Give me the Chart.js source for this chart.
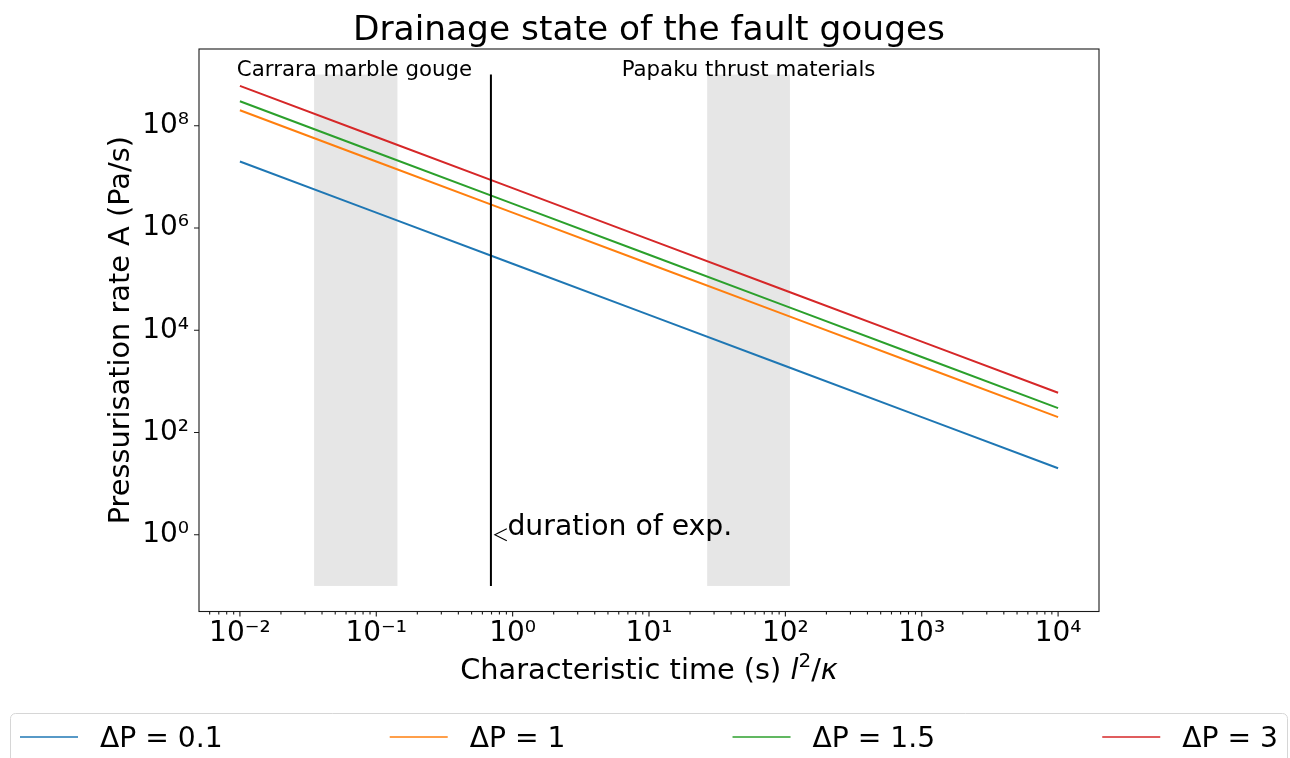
<!DOCTYPE html>
<html>
<head>
<meta charset="utf-8">
<script src="https://cdn.jsdelivr.net/npm/chart.js@4"></script>
<style>
  body { margin: 0; background: #fff; }
  #wrap { width: 1290px; height: 758px; }
</style>
</head>
<body>
<div id="wrap"><canvas id="drainageChart" width="1290" height="758"></canvas></div>
<script>
// characteristic time l^2/kappa (s), one point per decade
const times = [0.01, 0.1, 1, 10, 100, 1000, 10000];
// pressurisation rate A (Pa/s)
const rateDp01 = [2e7, 2e6, 2e5, 2e4, 2e3, 2e2, 2e1];
const rateDp1 = [2e8, 2e7, 2e6, 2e5, 2e4, 2e3, 2e2];
const rateDp15 = [3e8, 3e7, 3e6, 3e5, 3e4, 3e3, 3e2];
const rateDp3 = [6e8, 6e7, 6e6, 6e5, 6e4, 6e3, 6e2];
const seriesLabels = ['ΔP = 0.1', 'ΔP = 1', 'ΔP = 1.5', 'ΔP = 3'];
const seriesColors = ['#1f77b4', '#ff7f0e', '#2ca02c', '#d62728'];

// shaded time ranges of the two materials
const carraraRange = [0.035, 0.143];
const papakuRange = [26.7, 108];
const spanRate = [0.1, 1e9];
const expDuration = 0.693;
const arrowTip = [0.74, 1];
const noteAt = [0.915, 1];

const xMajorTicks = [1e-2, 1e-1, 1e0, 1e1, 1e2, 1e3, 1e4];
const yMajorTicks = [1e0, 1e2, 1e4, 1e6, 1e8];

const FONT = '"DejaVu Sans", "Liberation Sans", sans-serif';
Chart.defaults.font.family = FONT;
Chart.defaults.color = '#000';

const supChars = { '-': '⁻', '0': '⁰', '1': '¹', '2': '²', '3': '³', '4': '⁴', '5': '⁵', '6': '⁶', '7': '⁷', '8': '⁸', '9': '⁹' };
function isPow10(v) {
  const e = Math.log10(v);
  return Math.abs(e - Math.round(e)) < 1e-6;
}
function powLabel(v) {
  const e = String(Math.round(Math.log10(v)));
  return '10' + e.split('').map(c => supChars[c]).join('');
}

function toPoints(vals) {
  return times.map((t, i) => ({ x: t, y: vals[i] }));
}

const extras = {
  id: 'extras',
  beforeDatasetsDraw(chart) {
    const { ctx, scales: { x, y } } = chart;
    ctx.save();
    ctx.fillStyle = '#e6e6e6';
    [carraraRange, papakuRange].forEach(r => {
      const x0 = x.getPixelForValue(r[0]);
      const x1 = x.getPixelForValue(r[1]);
      const y0 = y.getPixelForValue(spanRate[1]);
      const y1 = y.getPixelForValue(spanRate[0]);
      ctx.fillRect(x0, y0, x1 - x0, y1 - y0);
    });
    ctx.restore();
  },
  afterDatasetsDraw(chart) {
    const { ctx, scales: { x, y } } = chart;
    ctx.save();
    // duration of the experiments
    const xv = x.getPixelForValue(expDuration);
    ctx.strokeStyle = '#000';
    ctx.lineWidth = 2;
    ctx.beginPath();
    ctx.moveTo(xv, y.getPixelForValue(spanRate[1]));
    ctx.lineTo(xv, y.getPixelForValue(spanRate[0]));
    ctx.stroke();
    ctx.restore();
  },
  afterDraw(chart) {
    const { ctx, chartArea: a, scales: { x, y } } = chart;
    ctx.save();
    // axes frame
    ctx.strokeStyle = '#1a1a1a';
    ctx.lineWidth = 1.1;
    ctx.strokeRect(a.left, a.top, a.right - a.left, a.bottom - a.top);

    // tick marks
    ctx.beginPath();
    x.ticks.forEach(t => {
      const px = x.getPixelForValue(t.value);
      ctx.moveTo(px, a.bottom);
      ctx.lineTo(px, a.bottom + (isPow10(t.value) ? 5 : 3));
    });
    y.ticks.forEach(t => {
      const py = y.getPixelForValue(t.value);
      ctx.moveTo(a.left, py);
      ctx.lineTo(a.left - 5, py);
    });
    ctx.stroke();

    ctx.fillStyle = '#000';
    // title
    ctx.font = '34.4px ' + FONT;
    ctx.textAlign = 'center';
    ctx.textBaseline = 'alphabetic';
    ctx.fillText('Drainage state of the fault gouges', (a.left + a.right) / 2, 40);

    // range labels
    ctx.font = '21.3px ' + FONT;
    ctx.textAlign = 'left';
    ctx.fillText('Carrara marble gouge', x.getPixelForValue(0.0095), y.getPixelForValue(spanRate[1]) + 1);
    ctx.textAlign = 'center';
    ctx.fillText('Papaku thrust materials', x.getPixelForValue(Math.sqrt(papakuRange[0] * papakuRange[1])), y.getPixelForValue(spanRate[1]) + 1);

    // annotation
    const tipX = x.getPixelForValue(arrowTip[0]);
    const tipY = y.getPixelForValue(arrowTip[1]);
    ctx.lineWidth = 1.1;
    ctx.strokeStyle = '#000';
    ctx.beginPath();
    ctx.moveTo(tipX + 12, tipY - 6);
    ctx.lineTo(tipX, tipY);
    ctx.lineTo(tipX + 12, tipY + 6);
    ctx.stroke();
    ctx.font = '28.3px ' + FONT;
    ctx.textAlign = 'left';
    ctx.fillText('duration of exp.', x.getPixelForValue(noteAt[0]), y.getPixelForValue(noteAt[1]));

    // y axis title
    ctx.font = '28.8px ' + FONT;
    ctx.save();
    ctx.translate(129, (a.top + a.bottom) / 2);
    ctx.rotate(-Math.PI / 2);
    ctx.textAlign = 'center';
    ctx.fillText('Pressurisation rate A (Pa/s)', 0, 0);
    ctx.restore();

    // x axis title with l^2/kappa
    const parts = [
      { s: 'Characteristic time (s) ', f: '28.8px ' + FONT, dy: 0 },
      { s: 'l', f: 'italic 28.8px ' + FONT, dy: 0 },
      { s: '2', f: '20px ' + FONT, dy: -12 },
      { s: '/', f: '28.8px ' + FONT, dy: 0 },
      { s: 'κ', f: 'italic 28.8px ' + FONT, dy: 0 }
    ];
    let total = 0;
    parts.forEach(p => { ctx.font = p.f; p.w = ctx.measureText(p.s).width; total += p.w; });
    let cx = (a.left + a.right) / 2 - total / 2;
    ctx.textAlign = 'left';
    parts.forEach(p => { ctx.font = p.f; ctx.fillText(p.s, cx, 679 + p.dy); cx += p.w; });

    // legend
    const lg = { left: 10, top: 713, right: 1288 };
    ctx.strokeStyle = '#d6d6d6';
    ctx.lineWidth = 1;
    ctx.beginPath();
    ctx.roundRect(lg.left + 0.5, lg.top + 0.5, lg.right - lg.left - 1, 80, 5);
    ctx.stroke();
    ctx.font = '28.2px ' + FONT;
    const handle = 58, gapText = 22;
    const widths = seriesLabels.map(s => handle + gapText + ctx.measureText(s).width);
    const inner0 = lg.left + 10, inner1 = lg.right - 10;
    const gap = (inner1 - inner0 - widths.reduce((s, w) => s + w, 0)) / (seriesLabels.length - 1);
    let lx = inner0;
    seriesLabels.forEach((s, i) => {
      ctx.strokeStyle = seriesColors[i];
      ctx.lineWidth = 1.5;
      ctx.beginPath();
      ctx.moveTo(lx, 737);
      ctx.lineTo(lx + handle, 737);
      ctx.stroke();
      ctx.fillStyle = '#000';
      ctx.fillText(s, lx + handle + gapText, 747);
      lx += widths[i] + gap;
    });
    ctx.restore();
  }
};

const ctx = document.getElementById('drainageChart').getContext('2d');
const drainageChart = new Chart(ctx, {
  type: 'line',
  data: {
    datasets: [rateDp01, rateDp1, rateDp15, rateDp3].map((vals, i) => ({
      label: seriesLabels[i],
      data: toPoints(vals),
      borderColor: seriesColors[i],
      borderWidth: 2,
      pointRadius: 0,
      fill: false,
      tension: 0
    }))
  },
  options: {
    responsive: false,
    animation: false,
    layout: { padding: { top: 49, right: 191, left: 0, bottom: 0 } },
    plugins: {
      legend: { display: false },
      title: { display: false },
      tooltip: { enabled: false }
    },
    scales: {
      x: {
        type: 'logarithmic',
        min: Math.pow(10, -2.3),
        max: Math.pow(10, 4.3),
        grid: { display: false, drawTicks: false },
        border: { display: false },
        ticks: {
          autoSkip: false,
          maxRotation: 0,
          padding: 5,
          font: { size: 28 },
          callback: v => isPow10(v) ? powLabel(v) : ''
        },
        afterBuildTicks: scale => {
          // majors at each decade plus 2..9 minors, clipped to the axis range
          const t = [];
          [1e-3].concat(xMajorTicks).forEach(m => {
            for (let k = 1; k < 10; k++) {
              const v = m * k;
              if (v >= scale.min && v <= scale.max) t.push({ value: v });
            }
          });
          scale.ticks = t;
        },
        afterFit: scale => { scale.height = 146.5; }
      },
      y: {
        type: 'logarithmic',
        min: Math.pow(10, -1.5),
        max: Math.pow(10, 9.5),
        grid: { display: false, drawTicks: false },
        border: { display: false },
        ticks: {
          padding: 10,
          font: { size: 28 },
          callback: v => powLabel(v)
        },
        afterBuildTicks: scale => { scale.ticks = yMajorTicks.map(v => ({ value: v })); },
        afterFit: scale => { scale.height = scale.height; scale.width = 199; }
      }
    }
  },
  plugins: [extras]
});
</script>
</body>
</html>
